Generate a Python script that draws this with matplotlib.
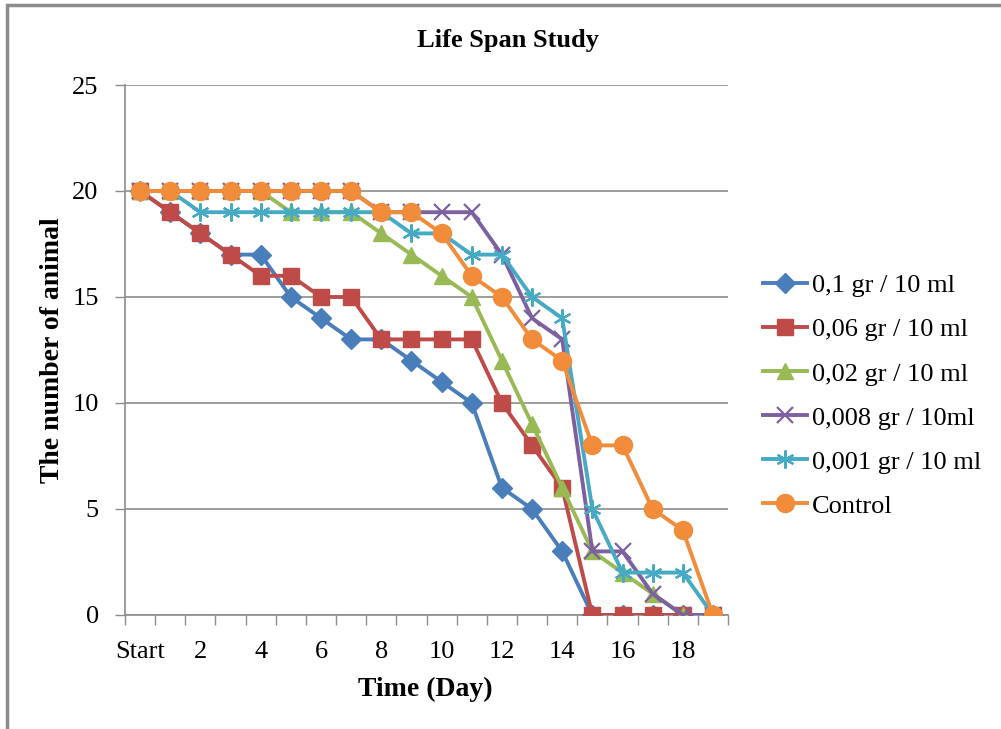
import matplotlib.pyplot as plt
from matplotlib.patches import Rectangle

days = ['Start'] + [str(d) for d in range(1, 20)]
dose_01 = [20, 19, 18, 17, 17, 15, 14, 13, 13, 12, 11, 10, 6, 5, 3, 0, 0, 0, 0, 0]
dose_006 = [20, 19, 18, 17, 16, 16, 15, 15, 13, 13, 13, 13, 10, 8, 6, 0, 0, 0, 0, 0]
dose_002 = [20, 20, 20, 20, 20, 19, 19, 19, 18, 17, 16, 15, 12, 9, 6, 3, 2, 1, 0, 0]
dose_0008 = [20, 20, 20, 20, 20, 20, 20, 20, 19, 19, 19, 19, 17, 14, 13, 3, 3, 1, 0, 0]
dose_0001 = [20, 20, 19, 19, 19, 19, 19, 19, 19, 18, 18, 17, 17, 15, 14, 5, 2, 2, 2, 0]
control = [20, 20, 20, 20, 20, 20, 20, 20, 19, 19, 18, 16, 15, 13, 12, 8, 8, 5, 4, 0]

series = [
    ('0,1 gr / 10 ml', dose_01, '#4A7EBB', 'D', 10),
    ('0,06 gr / 10 ml', dose_006, '#BE4B48', 's', 11),
    ('0,02 gr / 10 ml', dose_002, '#98B954', '^', 12),
    ('0,008 gr / 10ml', dose_0008, '#7D60A0', 'x', 11),
    ('0,001 gr / 10 ml', dose_0001, '#46AAC5', '*', 13),
    ('Control', control, '#F08C3A', 'o', 13),
]

plt.rcParams['font.family'] = ['Liberation Serif', 'DejaVu Serif']

fig = plt.figure(figsize=(10.01, 7.29), dpi=100)
ax = fig.add_axes([0.1249, 0.1564, 0.6024, 0.727])

x = list(range(len(days)))
for label, vals, color, marker, ms in series:
    if marker in ('x', '*'):
        ax.plot(x, vals, color=color, lw=2.8, marker='x' if marker == 'x' else (6, 2, 0),
                ms=ms, mew=1.6, mec=color, mfc=color, label=label, zorder=3)
    else:
        ax.plot(x, vals, color=color, lw=2.8, marker=marker, ms=ms,
                mec=color, mfc=color, label=label, zorder=3)

ax.set_xlim(-0.5, len(days) - 0.5)
ax.set_ylim(0, 25)
ax.set_yticks(range(0, 26, 5))
ax.yaxis.grid(True, color='#8C8C8C', lw=1.2)
ax.set_axisbelow(True)

# boundaries get tick marks, every second category gets a label
ax.set_xticks([i - 0.5 for i in range(len(days) + 1)])
ax.set_xticklabels([])
ax.set_xticks(x[::2], minor=True)
ax.set_xticklabels(days[::2], minor=True)
ax.tick_params(axis='x', which='major', length=7, color='#8C8C8C', width=1)
ax.tick_params(axis='x', which='minor', length=0, pad=19, labelsize=19)
ax.tick_params(axis='y', length=7, color='#8C8C8C', width=1, labelsize=19, pad=12)

for s in ['top', 'right']:
    ax.spines[s].set_visible(False)
for s in ['left', 'bottom']:
    ax.spines[s].set_color('#8C8C8C')
    ax.spines[s].set_linewidth(1.2)

fig.text(0.507, 0.945, 'Life Span Study', ha='center', va='center', fontsize=19, fontweight='bold')
fig.text(0.425, 0.054, 'Time (Day)', ha='center', va='center', fontsize=20, fontweight='bold')
fig.text(0.052, 0.52, 'The number of animal', ha='center', va='center', rotation=90,
         fontsize=20, fontweight='bold')

fig.legend(loc='center left', bbox_to_anchor=(0.739, 0.457), frameon=False, fontsize=19,
           handlelength=1.65, labelspacing=0.78, handletextpad=0.2)

fig.patches.append(Rectangle((0.007, -0.05), 1.1, 1.043, transform=fig.transFigure,
                             fill=False, ec='#8C8C8C', lw=2.5))

fig.savefig('out.png', dpi=100)
